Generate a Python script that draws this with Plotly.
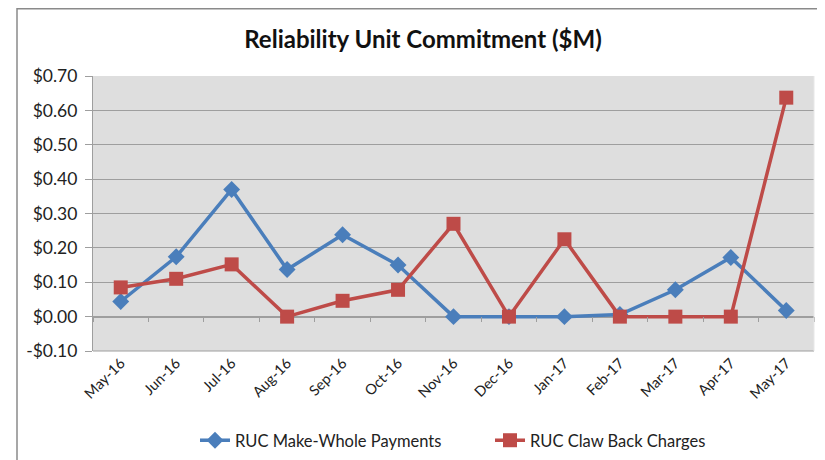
import plotly.graph_objects as go

months = ["May-16", "Jun-16", "Jul-16", "Aug-16", "Sep-16", "Oct-16", "Nov-16",
          "Dec-16", "Jan-17", "Feb-17", "Mar-17", "Apr-17", "May-17"]
make_whole = [0.044, 0.174, 0.370, 0.137, 0.238, 0.150, 0.0,
              0.0, 0.0, 0.006, 0.078, 0.172, 0.018]
claw_back = [0.085, 0.110, 0.152, 0.0, 0.046, 0.078, 0.270,
             0.0, 0.225, 0.0, 0.0, 0.0, 0.637]
y_tick_values = [-0.1, 0.0, 0.1, 0.2, 0.3, 0.4, 0.5, 0.6, 0.7]
y_tick_labels = ["-$0.10", "$0.00", "$0.10", "$0.20", "$0.30", "$0.40", "$0.50", "$0.60", "$0.70"]

BLUE = "#4a7ebb"
RED = "#be4b48"
GRID = "#9e9e9e"
FONT = "Lato, 'Open Sans', sans-serif"

# the page body adds an 8px offset; layout below is in figure coordinates
OFF = 8
L, T = 93 - OFF, 76 - OFF
R_EDGE, B_EDGE = 814 - OFF, 351 - OFF
PW, PH = R_EDGE - L, B_EDGE - T

fig = go.Figure()
fig.add_trace(go.Scatter(
    x=months, y=make_whole, name="RUC Make-Whole Payments", mode="lines+markers",
    line=dict(color=BLUE, width=3.5),
    marker=dict(symbol="diamond", size=13, color=BLUE),
))
fig.add_trace(go.Scatter(
    x=months, y=claw_back, name="RUC Claw Back Charges", mode="lines+markers",
    line=dict(color=RED, width=3.5),
    marker=dict(symbol="square", size=14, color=RED),
))
# invisible trace to carry the tick-mark axis placed at y = 0
fig.add_trace(go.Scatter(
    x=months, y=[0] * len(months), xaxis="x2", mode="markers",
    marker=dict(opacity=0), showlegend=False, hoverinfo="skip",
))

fig.update_layout(
    width=825, height=460,
    margin=dict(l=L, r=825 - R_EDGE, t=T, b=460 - B_EDGE, autoexpand=False),
    paper_bgcolor="white",
    plot_bgcolor="#dedede",
    font=dict(family=FONT, size=14, color="#222"),
    title=dict(text="<b>Reliability Unit Commitment ($M)</b>", x=(423 - OFF) / 825, xanchor="center",
               yref="container", y=1 - (40 - OFF) / 460, yanchor="middle",
               font=dict(size=24, color="#111", family=FONT)),
    xaxis=dict(
        type="category", range=[-0.5, 12.5], tickangle=-45, automargin=False,
        showgrid=False, showline=False, ticks="", ticklabelstandoff=0,
        tickfont=dict(size=14.5),
    ),
    xaxis2=dict(
        type="category", overlaying="x", anchor="free", position=35 / 275,
        range=[-0.5, 12.5], showticklabels=False, showgrid=False, showline=False,
        ticks="outside", ticklen=5, tickcolor=GRID, tickwidth=1.2, tickson="boundaries",
        automargin=False,
    ),
    yaxis=dict(
        range=[-0.1, 0.7], tickvals=y_tick_values, ticktext=y_tick_labels, automargin=False,
        showgrid=True, gridcolor=GRID, gridwidth=1.2,
        zeroline=True, zerolinecolor=GRID, zerolinewidth=1.5,
        showline=True, linecolor=GRID, linewidth=1.2,
        ticks="outside", ticklen=7, tickcolor=GRID, tickwidth=1.2, ticklabelstandoff=4,
        tickfont=dict(size=17.5),
    ),
    legend=dict(
        orientation="h", xref="container", x=(195 - OFF) / 825, xanchor="left",
        yref="container", y=1 - (423 - OFF) / 460,
        yanchor="top", font=dict(size=16.5), itemwidth=30, entrywidth=250,
        bgcolor="rgba(0,0,0,0)",
    ),
    shapes=[
        dict(type="rect", xref="paper", yref="paper",
             x0=(17 - 93) / PW, x1=1.2, y0=-0.6, y1=(B_EDGE - 0.8) / PH,
             line=dict(color="#8a8a8a", width=1.5), fillcolor="rgba(0,0,0,0)", layer="below"),
        dict(type="line", xref="paper", yref="paper", x0=0, x1=1, y0=0, y1=0,
             line=dict(color=GRID, width=1.2)),
        dict(type="line", xref="paper", yref="paper", x0=1, x1=1, y0=0, y1=1,
             line=dict(color="#e8e8e8", width=1)),
    ],
)

fig.write_html("out.html")
